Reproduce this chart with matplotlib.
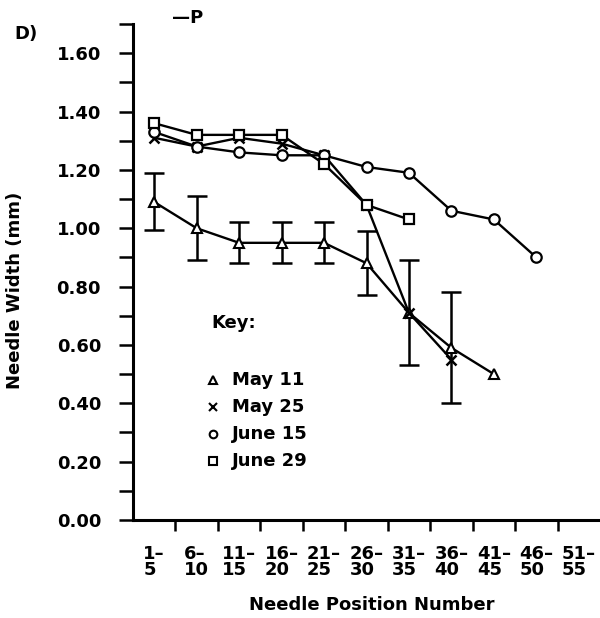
import matplotlib
matplotlib.use("Agg")
import matplotlib.pyplot as plt
import numpy as np

plt.rcParams['font.family'] = ['DejaVu Sans']
plt.rcParams['font.weight'] = 'bold'

categories = ["1–\n5", "6–\n10", "11–\n15", "16–\n20", "21–\n25", "26–\n30",
              "31–\n35", "36–\n40", "41–\n45", "46–\n50", "51–\n55"]

may11 = [1.09, 1.00, 0.95, 0.95, 0.95, 0.88, 0.71, 0.59, 0.50]
may11_lo = [0.995, 0.89, 0.88, 0.88, 0.88, 0.77, 0.53, 0.40]
may11_hi = [1.19, 1.11, 1.02, 1.02, 1.02, 0.99, 0.89, 0.78]
may25 = [1.31, 1.28, 1.31, 1.29, 1.25, 1.08, 0.71, 0.55]
june15 = [1.33, 1.28, 1.26, 1.25, 1.25, 1.21, 1.19, 1.06, 1.03, 0.90]
june29 = [1.36, 1.32, 1.32, 1.32, 1.22, 1.08, 1.03]

yticks = [0.00, 0.20, 0.40, 0.60, 0.80, 1.00, 1.20, 1.40, 1.60]
legend_labels = ["May 11", "May 25", "June 15", "June 29"]

W, H = 600, 618
fig = plt.figure(figsize=(W / 100, H / 100), dpi=100)
L, R, T, B = 133, 600, 24, 520
ax = fig.add_axes([L / W, (H - B) / H, (R - L) / W, (B - T) / H])

lw = 1.7
fs = 13

# May 11 with error bars
x11 = np.arange(len(may11))
ax.plot(x11, may11, color='black', lw=lw, marker='^', ms=7, mfc='white',
        mec='black', mew=1.5, zorder=3)
n = len(may11_lo)
mid = np.array(may11[:n])
ax.errorbar(np.arange(n), mid,
            yerr=[mid - np.array(may11_lo), np.array(may11_hi) - mid],
            fmt='none', ecolor='black', elinewidth=1.8, capsize=7, capthick=1.8,
            zorder=2)

ax.plot(np.arange(len(may25)), may25, color='black', lw=lw, marker='x', ms=7,
        mew=1.8, zorder=3)
ax.plot(np.arange(len(june15)), june15, color='black', lw=lw, marker='o', ms=7.5,
        mfc='white', mec='black', mew=1.6, zorder=3)
ax.plot(np.arange(len(june29)), june29, color='black', lw=lw, marker='s', ms=7.5,
        mfc='white', mec='black', mew=1.6, zorder=3)

ax.set_xlim(-0.5, 10.5)
ax.set_ylim(0, 1.70)

for s in ['top', 'right']:
    ax.spines[s].set_visible(False)
for s in ['left', 'bottom']:
    ax.spines[s].set_linewidth(2.2)

ax.set_yticks(yticks)
ax.set_yticklabels([f"{v:.2f}" for v in yticks], fontsize=fs, fontweight='bold')
ax.set_yticks(np.arange(0.1, 1.71, 0.2), minor=True)
ax.tick_params(axis='y', which='both', direction='out', length=10, width=1.8,
               pad=13)

ax.set_xticks(np.arange(len(categories)))
ax.set_xticklabels(categories, fontsize=fs, fontweight='bold', linespacing=0.85)
for t in ax.get_xticklabels():
    t.set_multialignment('left')
ax.set_xticks(np.arange(0.5, 10.0, 1.0), minor=True)
ax.tick_params(axis='x', which='major', length=0, pad=18)
ax.tick_params(axis='x', which='minor', length=8, width=1.8, direction='out')

fig.text(372 / W, 1 - 605 / H, "Needle Position Number", fontsize=fs,
         fontweight='bold', ha='center', va='center')
fig.text(15 / W, 1 - 290 / H, "Needle Width (mm)", fontsize=fs,
         fontweight='bold', ha='center', va='center', rotation=90)
fig.text(14 / W, 1 - 34 / H, "D)", fontsize=fs, fontweight='bold',
         ha='left', va='center')
fig.text(172 / W, 1 - 18 / H, "—P", fontsize=fs, fontweight='bold',
         ha='left', va='center')

# Key
def fx(px):
    return (px - L) / (R - L)

def fy(py):
    return (B - py) / (B - T)

ax.text(fx(211), fy(323), "Key:", fontsize=fs, fontweight='bold', ha='left',
        va='center', transform=ax.transAxes)
markers = [('^', 'white'), ('x', 'black'), ('o', 'white'), ('s', 'white')]
ys = [380, 407, 434, 461]
for (m, fc), lab, py in zip(markers, legend_labels, ys):
    ax.plot([fx(213)], [fy(py)], marker=m, ms=5.5, mfc=fc, mec='black',
            mew=1.5, color='black', transform=ax.transAxes, clip_on=False)
    ax.text(fx(232), fy(py), lab, fontsize=fs, fontweight='bold', ha='left',
            va='center', transform=ax.transAxes)

fig.savefig("out.png", dpi=100)
